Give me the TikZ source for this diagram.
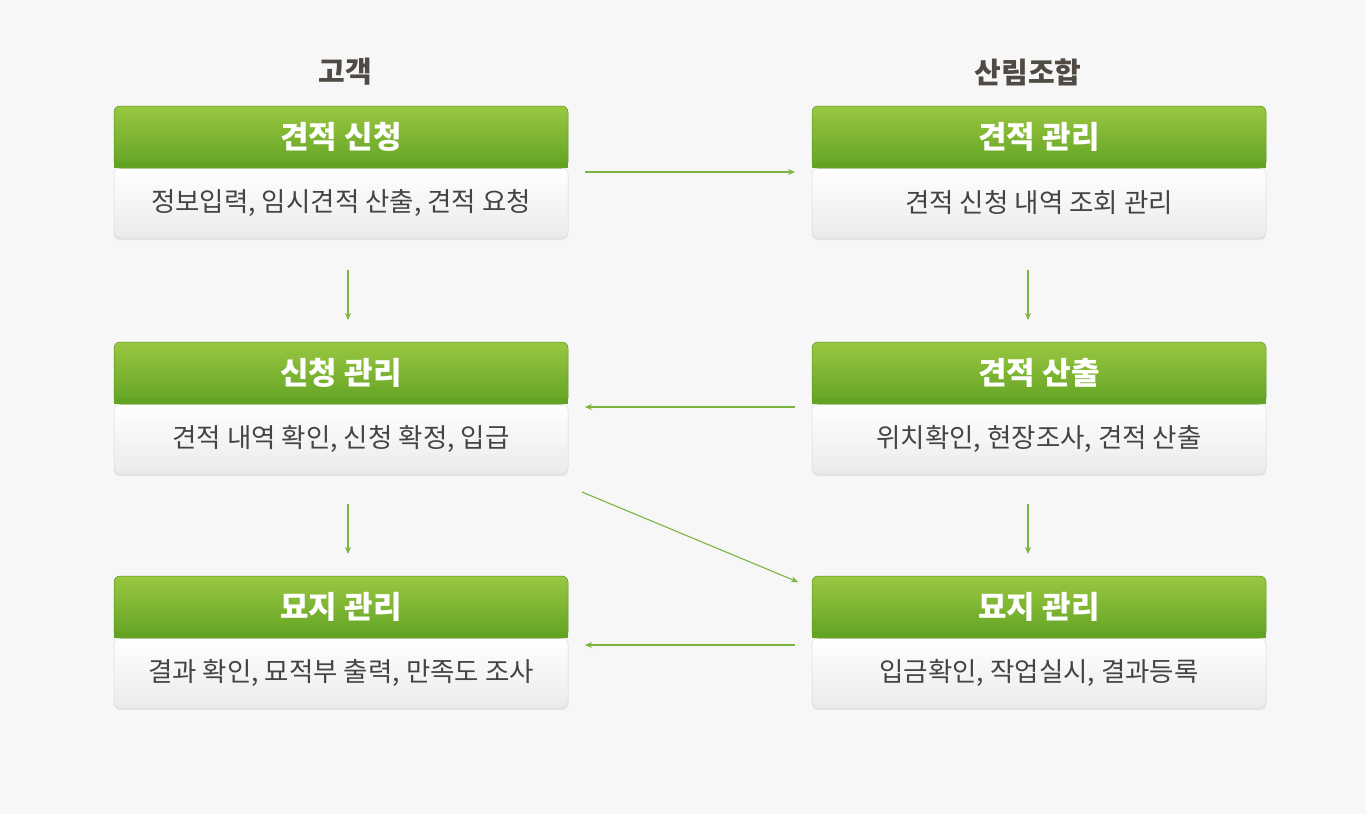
\documentclass[tikz,border=0pt]{standalone}
\usepackage{fontspec}
\setmainfont{Noto Sans CJK KR}
\usetikzlibrary{shadows,arrows.meta}
\definecolor{bg}{HTML}{F7F7F7}
\definecolor{gtop}{HTML}{9AC741}
\definecolor{gbot}{HTML}{62A324}
\definecolor{arr}{HTML}{7CB342}
\definecolor{txt}{HTML}{444444}
\tikzset{
 hdr/.style={minimum width=454pt,minimum height=62pt,inner sep=0pt,top color=gtop,bottom color=gbot,draw=gbot!90!black,line width=0.5pt,text=white,rounded corners=6pt},
 hdrtext/.style={text=white,font=\fontsize{31}{34}\selectfont\bfseries},
 bdy/.style={minimum width=454pt,minimum height=70pt,inner sep=0pt,top color=white,bottom color=black!8,draw=black!15,line width=0.5pt,text=txt,font=\fontsize{26.5}{30}\selectfont,rounded corners=6pt,drop shadow={opacity=0.15,shadow xshift=0pt,shadow yshift=-2pt}},
 ttl/.style={text=txt!90!brown,font=\fontsize{29}{32}\selectfont\bfseries},
 ar/.style={draw=arr,line width=1.1pt,-{Stealth[length=7pt,width=6pt]}}
}
\begin{document}
\begin{tikzpicture}[x=1pt,y=-1pt]
\fill[bg] (0,0) rectangle (1366,814);
\useasboundingbox (0,0) rectangle (1366,814);
\node[ttl] (t1) at (345,72) {고객};
\node[ttl] (t2) at (1028,72) {산림조합};
\newcommand{\mybox}[5]{%
 \node[bdy] (#1b) at (#2,#3+66) {\raisebox{-2pt}{#5}};
 \node[hdr] (#1h) at (#2,#3) {};
 \fill[gbot] (#2-226.75,#3+25) rectangle (#2+226.75,#3+31);
 \node[hdrtext] at (#2,#3) {#4};
}
\mybox{a}{341}{137}{견적 신청}{정보입력, 임시견적 산출, 견적 요청}
\mybox{b}{1039}{137}{견적 관리}{견적 신청 내역 조회 관리}
\mybox{c}{341}{373}{신청 관리}{견적 내역 확인, 신청 확정, 입급}
\mybox{d}{1039}{373}{견적 산출}{위치확인, 현장조사, 견적 산출}
\mybox{e}{341}{607}{묘지 관리}{결과 확인, 묘적부 출력, 만족도 조사}
\mybox{f}{1039}{607}{묘지 관리}{입금확인, 작업실시, 결과등록}
\coordinate (p1) at (585,172); \coordinate (p2) at (795,172);
\coordinate (p3) at (348,270); \coordinate (p4) at (348,320);
\coordinate (p5) at (1028,270); \coordinate (p6) at (1028,320);
\coordinate (p7) at (795,407); \coordinate (p8) at (585,407);
\coordinate (p9) at (348,504); \coordinate (p10) at (348,554);
\coordinate (p11) at (1028,504); \coordinate (p12) at (1028,554);
\coordinate (p13) at (582,492); \coordinate (p14) at (798,582);
\coordinate (p15) at (795,645); \coordinate (p16) at (585,645);
\draw[ar] (p1)--(p2); \draw[ar] (p3)--(p4); \draw[ar] (p5)--(p6);
\draw[ar] (p7)--(p8); \draw[ar] (p9)--(p10); \draw[ar] (p11)--(p12);
\draw[ar] (p13)--(p14); \draw[ar] (p15)--(p16);
\end{tikzpicture}
\end{document}
